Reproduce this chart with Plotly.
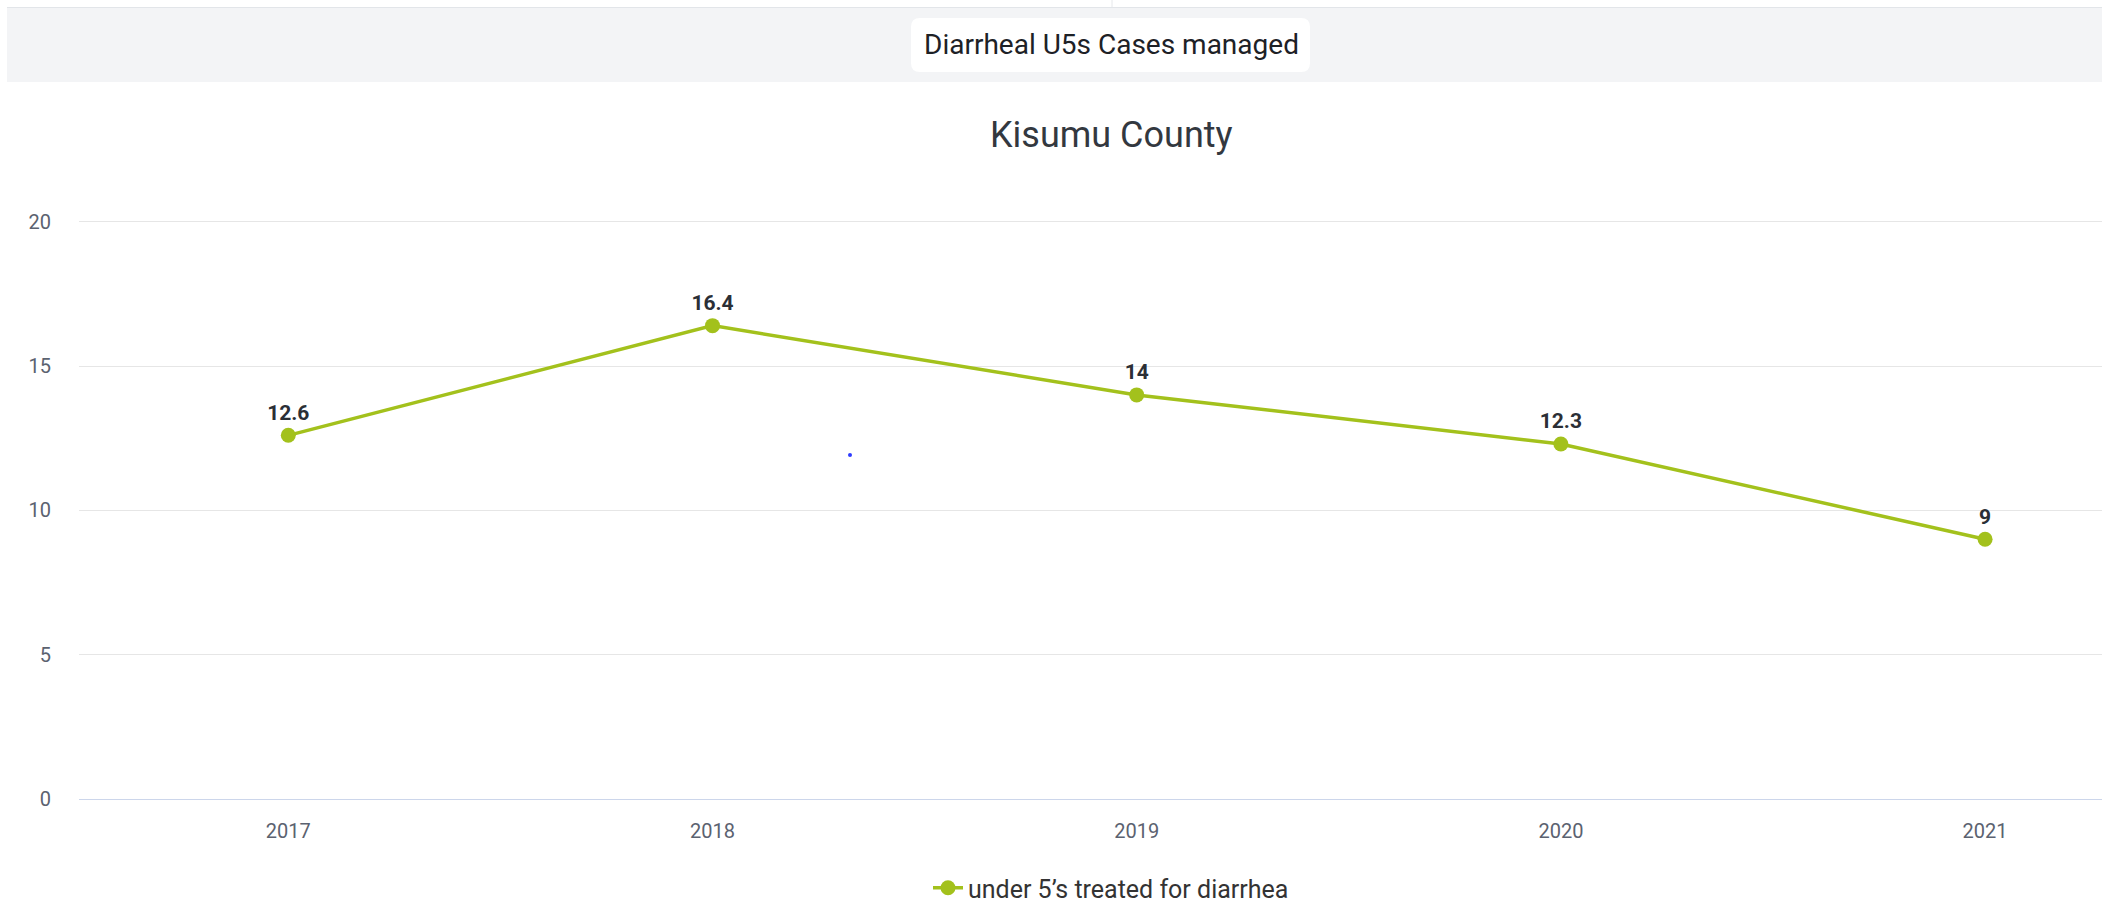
import plotly.graph_objects as go

# ---- data ----
years = ["2017", "2018", "2019", "2020", "2021"]
treated = [12.6, 16.4, 14, 12.3, 9]
series_name = "under 5’s treated for diarrhea"
y_ticks = [0, 5, 10, 15, 20]
header_text = "Diarrheal U5s Cases managed"
chart_title = "Kisumu County"

# ---- layout geometry (page pixels; body margin removed below) ----
FIG_W, FIG_H = 2102, 905
L, R, T, B = 79, 0, 220, 106
PW = FIG_W - L - R
PH = FIG_H - T - B


def px(x):
    return (x - L) / PW


def py(y):
    return (FIG_H - B - y) / PH


GREEN = "#a3c11c"
TEXT_DARK = "#2b2f36"
TICK_COL = "#5b6270"

fig = go.Figure()
fig.add_trace(go.Scatter(
    x=years, y=treated, name=series_name,
    mode="lines+markers+text",
    text=[f"{v:g}" for v in treated],
    textposition="top center",
    textfont=dict(family="Roboto", size=21, color=TEXT_DARK, weight="bold"),
    line=dict(color=GREEN, width=3.5),
    marker=dict(size=15, color=GREEN),
    cliponaxis=False,
    hoverinfo="x+y",
))

# header band + rounded white box
x0, x1, y0, y1, r = 911, 1310, 18, 72, 9
path = (
    f"M {px(x0 + r)},{py(y0)} L {px(x1 - r)},{py(y0)} "
    f"Q {px(x1)},{py(y0)} {px(x1)},{py(y0 + r)} "
    f"L {px(x1)},{py(y1 - r)} Q {px(x1)},{py(y1)} {px(x1 - r)},{py(y1)} "
    f"L {px(x0 + r)},{py(y1)} Q {px(x0)},{py(y1)} {px(x0)},{py(y1 - r)} "
    f"L {px(x0)},{py(y0 + r)} Q {px(x0)},{py(y0)} {px(x0 + r)},{py(y0)} Z"
)
shapes = [
    dict(type="rect", xref="paper", yref="paper",
         x0=px(7), x1=px(FIG_W), y0=py(8), y1=py(82),
         fillcolor="#f3f4f6", line=dict(width=0), layer="below"),
    dict(type="line", xref="paper", yref="paper",
         x0=px(7), x1=px(FIG_W), y0=py(7.5), y1=py(7.5),
         line=dict(color="#e2e5e9", width=1)),
    dict(type="line", xref="paper", yref="paper",
         x0=px(1112), x1=px(1112), y0=py(0), y1=py(7),
         line=dict(color="#e6e8eb", width=1)),
    dict(type="path", xref="paper", yref="paper", path=path,
         fillcolor="#ffffff", line=dict(width=0)),
    dict(type="circle", xref="paper", yref="paper",
         x0=px(848), x1=px(852), y0=py(453), y1=py(457),
         fillcolor="#2f3cff", line=dict(width=0)),
]

annotations = [
    dict(text=header_text, xref="paper", yref="paper",
         x=px(1111), y=py(45), xanchor="center", yanchor="middle",
         showarrow=False, font=dict(family="Roboto", size=28, color="#1d2126")),
    dict(text=chart_title, xref="paper", yref="paper",
         x=px(1111), y=py(135), xanchor="center", yanchor="middle",
         showarrow=False, font=dict(family="Roboto", size=36, color="#33383f")),
]

fig.update_layout(
    width=FIG_W, height=FIG_H,
    margin=dict(l=L, r=R, t=T, b=B, pad=0, autoexpand=False),
    paper_bgcolor="white", plot_bgcolor="white",
    font=dict(family="Roboto", color="#333333"),
    shapes=shapes, annotations=annotations,
    showlegend=True,
    legend=dict(orientation="h", x=px(1111), xanchor="center",
                y=py(888), yanchor="middle",
                font=dict(family="Roboto", size=25, color="#333333"),
                itemwidth=30, bgcolor="rgba(0,0,0,0)"),
    xaxis=dict(type="category", range=[-0.4934, 4.2756],
               showgrid=False, zeroline=False,
               showline=True, linecolor="#ccd6eb", linewidth=1,
               ticks="", ticklabelstandoff=14,
               tickfont=dict(family="Roboto", size=20, color=TICK_COL),
               fixedrange=True),
    yaxis=dict(range=[0, 20.06], tickvals=y_ticks,
               showgrid=True, gridcolor="#e6e6e6", gridwidth=1,
               zeroline=False, showline=False,
               ticks="", ticklabelstandoff=27,
               tickfont=dict(family="Roboto", size=20, color=TICK_COL),
               fixedrange=True),
)

fig.write_html(
    "out.html",
    config={"displayModeBar": False},
    post_script="document.body.style.margin='0';"
                "document.body.style.overflow='hidden';",
)
